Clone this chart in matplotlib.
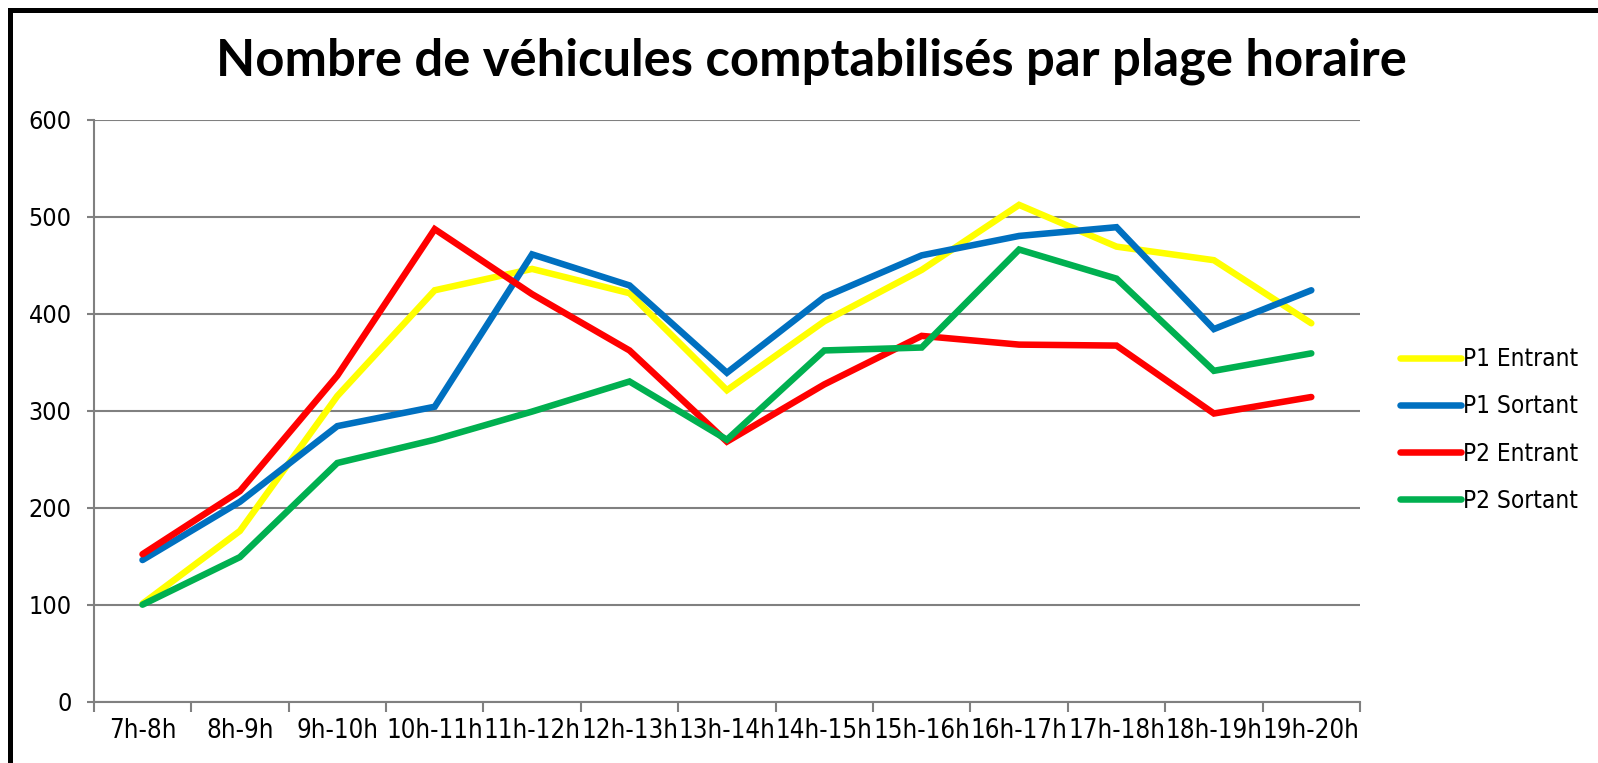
import matplotlib
matplotlib.use("Agg")
import numpy as np
from matplotlib import pyplot as plt
from matplotlib.patches import Rectangle

plages = ["7h-8h", "8h-9h", "9h-10h", "10h-11h", "11h-12h", "12h-13h", "13h-14h",
          "14h-15h", "15h-16h", "16h-17h", "17h-18h", "18h-19h", "19h-20h"]
p1_entrant = [101, 176, 315, 424, 446, 421, 321, 392, 445, 512, 469, 455, 390]
p1_sortant = [146, 206, 284, 304, 461, 429, 339, 417, 460, 480, 489, 384, 424]
p2_entrant = [152, 217, 336, 487, 420, 362, 268, 327, 377, 368, 367, 297, 314]
p2_sortant = [100, 149, 246, 270, 299, 330, 270, 362, 365, 466, 436, 341, 359]

series = [("P1 Entrant", p1_entrant, "#FFFF00"),
          ("P1 Sortant", p1_sortant, "#0070C0"),
          ("P2 Entrant", p2_entrant, "#FF0000"),
          ("P2 Sortant", p2_sortant, "#00B050")]

W, H = 1598, 763
fig = plt.figure(figsize=(W / 100, H / 100), dpi=100)
ax = fig.add_axes([93.8 / W, 1 - 701.7 / H, (1360 - 93.8) / W, (701.7 - 119.5) / H])

fam = ["DejaVu Sans"]
x = np.arange(len(plages))
for name, vals, col in series:
    ax.plot(x, vals, color=col, lw=4.7, label=name, solid_capstyle="round",
            solid_joinstyle="miter")

ax.set_xlim(-0.5, len(plages) - 0.5)
ax.set_ylim(0, 600)
ax.set_yticks(range(0, 601, 100))
ax.yaxis.grid(True, color="#808080", lw=1.5)
ax.set_axisbelow(True)
for s in ["top", "right"]:
    ax.spines[s].set_visible(False)
for s in ["left", "bottom"]:
    ax.spines[s].set_color("#808080")
    ax.spines[s].set_linewidth(1.5)

# category boundaries as major ticks, labels centred on minor ticks
ax.set_xticks(np.arange(-0.5, len(plages), 1.0))
ax.set_xticklabels([])
ax.set_xticks(x, minor=True)
ax.set_xticklabels(plages, minor=True, fontsize=18.5, family=fam, fontstretch="condensed")
ax.tick_params(axis="x", which="major", length=7, width=1.5, color="#808080", direction="out")
ax.tick_params(axis="x", which="minor", length=0, pad=12)
ax.tick_params(axis="y", length=5, width=1.5, color="#808080", pad=11, labelsize=18)
for lab in ax.get_yticklabels():
    lab.set_family(fam)
    lab.set_fontstretch("condensed")

fig.text(0.508, 1 - 61 / H, "Nombre de véhicules comptabilisés par plage horaire",
         ha="center", va="center", fontsize=36.5, fontweight="bold", family=["Lato", "DejaVu Sans"])

leg = fig.legend(loc="center left", bbox_to_anchor=(1378 / W, 1 - 430 / H), frameon=False,
                 prop={"family": fam, "size": 17.5, "stretch": "condensed"},
                 handlelength=2.5, handletextpad=0.1, labelspacing=0.95)
for line in leg.get_lines():
    line.set_linewidth(4.7)

fig.patches.append(Rectangle((10 / W, -0.5), 2, 1.5 - 10 / H, transform=fig.transFigure,
                             fill=False, ec="black", lw=3.6))

fig.savefig("out.png", dpi=100)
